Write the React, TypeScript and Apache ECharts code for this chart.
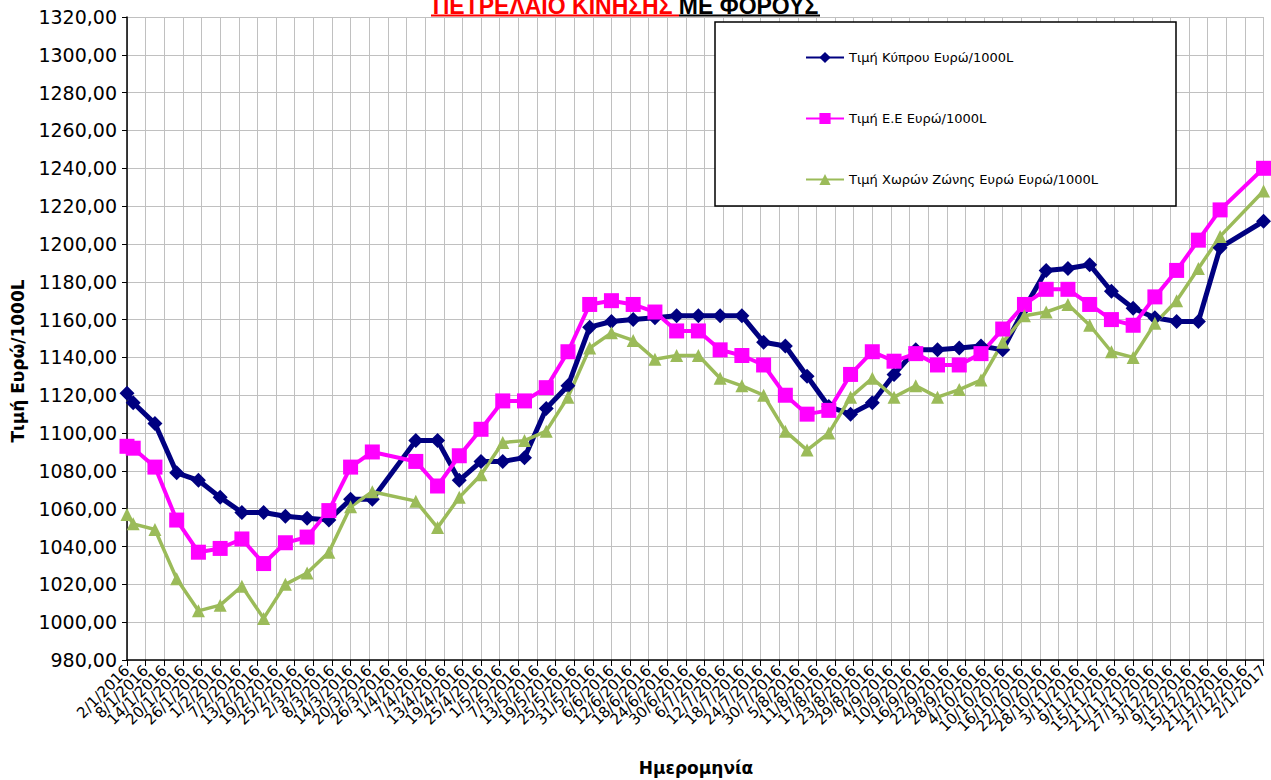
import React, { useEffect, useRef } from "react";
import * as echarts from "echarts";

// Tick labels of the date axis (one every 6 days)
const xTickLabels = [
  "2/1/2016", "8/1/2016", "14/1/2016", "20/1/2016", "26/1/2016", "1/2/2016", "7/2/2016",
  "13/2/2016", "19/2/2016", "25/2/2016", "2/3/2016", "8/3/2016", "14/3/2016", "20/3/2016",
  "26/3/2016", "1/4/2016", "7/4/2016", "13/4/2016", "19/4/2016", "25/4/2016", "1/5/2016",
  "7/5/2016", "13/5/2016", "19/5/2016", "25/5/2016", "31/5/2016", "6/6/2016", "12/6/2016",
  "18/6/2016", "24/6/2016", "30/6/2016", "6/7/2016", "12/7/2016", "18/7/2016", "24/7/2016",
  "30/7/2016", "5/8/2016", "11/8/2016", "17/8/2016", "23/8/2016", "29/8/2016", "4/9/2016",
  "10/9/2016", "16/9/2016", "22/9/2016", "28/9/2016", "4/10/2016", "10/10/2016",
  "16/10/2016", "22/10/2016", "28/10/2016", "3/11/2016", "9/11/2016", "15/11/2016",
  "21/11/2016", "27/11/2016", "3/12/2016", "9/12/2016", "15/12/2016", "21/12/2016",
  "27/12/2016", "2/1/2017",
];

// Dates of the observations (d/m/yyyy)
const dates = [
  "2/1/2016", "4/1/2016", "11/1/2016", "18/1/2016", "25/1/2016", "1/2/2016", "8/2/2016",
  "15/2/2016", "22/2/2016", "29/2/2016", "7/3/2016", "14/3/2016", "21/3/2016", "4/4/2016",
  "11/4/2016", "18/4/2016", "25/4/2016", "2/5/2016", "9/5/2016", "16/5/2016", "23/5/2016",
  "30/5/2016", "6/6/2016", "13/6/2016", "20/6/2016", "27/6/2016", "4/7/2016", "11/7/2016",
  "18/7/2016", "25/7/2016", "1/8/2016", "8/8/2016", "15/8/2016", "22/8/2016", "29/8/2016",
  "5/9/2016", "12/9/2016", "19/9/2016", "26/9/2016", "3/10/2016", "10/10/2016", "17/10/2016",
  "24/10/2016", "31/10/2016", "7/11/2016", "14/11/2016", "21/11/2016", "28/11/2016",
  "5/12/2016", "12/12/2016", "19/12/2016", "2/1/2017",
];

const cyprus = [
  1121, 1116, 1105, 1079, 1075, 1066, 1058, 1058, 1056, 1055, 1054, 1065, 1065,
  1096, 1096, 1075, 1085, 1085, 1087, 1113, 1125, 1156, 1159, 1160, 1161, 1162,
  1162, 1162, 1162, 1148, 1146, 1130, 1114, 1110, 1116, 1131, 1144, 1144, 1145,
  1146, 1144, 1166, 1186, 1187, 1189, 1175, 1166, 1161, 1159, 1159, 1198, 1212,
];

const eu = [
  1093, 1092, 1082, 1054, 1037, 1039, 1044, 1031, 1042, 1045, 1059, 1082, 1090,
  1085, 1072, 1088, 1102, 1117, 1117, 1124, 1143, 1168, 1170, 1168, 1164, 1154,
  1154, 1144, 1141, 1136, 1120, 1110, 1112, 1131, 1143, 1138, 1142, 1136, 1136,
  1142, 1155, 1168, 1176, 1176, 1168, 1160, 1157, 1172, 1186, 1202, 1218, 1240,
];

const euroZone = [
  1057, 1052, 1049, 1023, 1006, 1009, 1019, 1002, 1020, 1026, 1037, 1061, 1069,
  1064, 1050, 1066, 1078, 1095, 1096, 1101, 1119, 1145, 1153, 1149, 1139, 1141,
  1141, 1129, 1125, 1120, 1101, 1091, 1100, 1119, 1129, 1119, 1125, 1119, 1123,
  1128, 1148, 1162, 1164, 1168, 1157, 1143, 1140, 1158, 1170, 1187, 1204, 1228,
];

const seriesNames = [
  "Τιμή Κύπρου Ευρώ/1000L",
  "Τιμή Ε.Ε Ευρώ/1000L",
  "Τιμή Χωρών Ζώνης Ευρώ Ευρώ/1000L",
];

const AXIS_START = Date.UTC(2016, 0, 2);
const DAY = 86400000;

function dayOf(s: string): number {
  const [d, m, y] = s.split("/").map(Number);
  return Math.round((Date.UTC(y, m - 1, d) - AXIS_START) / DAY);
}

export default function App() {
  const ref = useRef<HTMLDivElement>(null);

  useEffect(() => {
    if (!ref.current) return;
    const chart = echarts.init(ref.current, undefined, { renderer: "svg" });
    const xs = dates.map(dayOf);
    const pairs = (vals: number[]) => vals.map((v, i) => [xs[i], v]);
    const axisMaxDay = dayOf(xTickLabels[xTickLabels.length - 1]);

    const titleFont = "bold 23px 'Liberation Sans', Arial, sans-serif";
    const tStart = 431;
    const tRedEnd = 679;
    const tEnd = 820;

    chart.setOption({
      animation: false,
      backgroundColor: "#ffffff",
      grid: { left: 127, right: 4, top: 17, bottom: 120, containLabel: false },
      xAxis: [
        {
          type: "category",
          data: xTickLabels,
          boundaryGap: false,
          axisLine: { show: true, lineStyle: { color: "#000", width: 1.5 } },
          axisTick: { show: true, length: 6, interval: 0, lineStyle: { color: "#000" } },
          axisLabel: {
            interval: 0,
            rotate: 45,
            fontSize: 15,
            fontFamily: "DejaVu Sans",
            color: "#000",
            margin: 8,
          },
          splitLine: { show: true, interval: 0, lineStyle: { color: "#c0c0c0", width: 1 } },
        },
        {
          type: "value",
          show: false,
          min: 0,
          max: axisMaxDay,
          splitLine: { show: false },
        },
      ],
      yAxis: {
        type: "value",
        min: 980,
        max: 1320,
        interval: 20,
        axisLine: { show: true, lineStyle: { color: "#000", width: 1.5 } },
        axisTick: { show: true, length: 5, lineStyle: { color: "#000" } },
        axisLabel: {
          fontSize: 19,
          fontFamily: "DejaVu Sans",
          color: "#000",
          margin: 10,
          formatter: (v: number) => v.toFixed(2).replace(".", ","),
        },
        splitLine: { show: true, lineStyle: { color: "#c0c0c0", width: 1 } },
      },
      legend: {
        orient: "vertical",
        left: 800,
        top: 46,
        itemWidth: 38,
        itemHeight: 14,
        itemGap: 48,
        z: 10,
        textStyle: { fontSize: 13, fontFamily: "DejaVu Sans", color: "#000" },
        data: seriesNames,
      },
      graphic: [
        {
          type: "rect",
          z: 3,
          shape: { x: 715, y: 22, width: 461, height: 184 },
          style: { fill: "#fff", stroke: "#000", lineWidth: 1.5 },
        },
        {
          type: "text",
          x: (tStart + tEnd) / 2,
          y: 5.5,
          z: 5,
          style: {
            text: "{r|ΠΕΤΡΕΛΑΙΟ ΚΙΝΗΣΗΣ }{b|ΜΕ ΦΟΡΟΥΣ}",
            align: "center",
            verticalAlign: "middle",
            font: titleFont,
            rich: {
              r: { fill: "#ff0000", font: titleFont },
              b: { fill: "#000000", font: titleFont },
            },
          },
        },
        {
          type: "line",
          z: 5,
          shape: { x1: tStart, y1: 15.5, x2: tRedEnd, y2: 15.5 },
          style: { stroke: "#ff0000", lineWidth: 2 },
        },
        {
          type: "line",
          z: 5,
          shape: { x1: tRedEnd, y1: 15.5, x2: tEnd, y2: 15.5 },
          style: { stroke: "#000000", lineWidth: 2 },
        },
        {
          type: "text",
          x: 18,
          y: 361,
          rotation: Math.PI / 2,
          style: {
            text: "Τιμή Ευρώ/1000L",
            align: "center",
            verticalAlign: "middle",
            font: "bold 17px 'DejaVu Sans', sans-serif",
            fill: "#000",
          },
        },
        {
          type: "text",
          x: 696,
          y: 768,
          style: {
            text: "Ημερομηνία",
            align: "center",
            verticalAlign: "middle",
            font: "bold 17px 'DejaVu Sans', sans-serif",
            fill: "#000",
          },
        },
      ],
      series: [
        {
          name: seriesNames[0],
          type: "line",
          xAxisIndex: 1,
          data: pairs(cyprus),
          clip: false,
          symbol: "diamond",
          symbolSize: 15,
          lineStyle: { color: "#000080", width: 5 },
          itemStyle: { color: "#000080" },
        },
        {
          name: seriesNames[1],
          type: "line",
          xAxisIndex: 1,
          data: pairs(eu),
          clip: false,
          symbol: "rect",
          symbolSize: 15,
          lineStyle: { color: "#ff00ff", width: 4 },
          itemStyle: { color: "#ff00ff" },
        },
        {
          name: seriesNames[2],
          type: "line",
          xAxisIndex: 1,
          data: pairs(euroZone),
          clip: false,
          symbol: "triangle",
          symbolSize: 13,
          lineStyle: { color: "#9bbb59", width: 3.5 },
          itemStyle: { color: "#9bbb59" },
        },
      ],
    });

    return () => chart.dispose();
  }, []);

  return (
    <div
      ref={ref}
      style={{ position: "fixed", left: 0, top: 0, width: 1271, height: 780 }}
    />
  );
}
